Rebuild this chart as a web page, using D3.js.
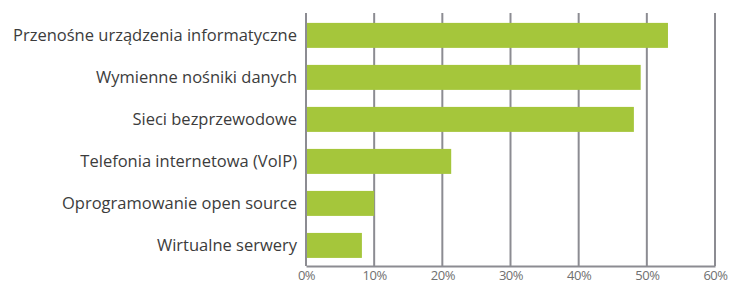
<!DOCTYPE html>
<html lang="pl">
<head>
<meta charset="UTF-8">
<title>Chart</title>
<style>
    body { margin: 0; background: #fff; }
    svg { display: block; }
</style>
</head>
<body>
<svg id="chart"></svg>
<script src="https://d3js.org/d3.v7.min.js"></script>
<script>
    const categories = [
        "Przenośne urządzenia informatyczne",
        "Wymienne nośniki danych",
        "Sieci bezprzewodowe",
        "Telefonia internetowa (VoIP)",
        "Oprogramowanie open source",
        "Wirtualne serwery"
    ];
    const values = [53.1, 49.1, 48.1, 21.3, 10.0, 8.2];
    const tick_values = [0, 10, 20, 30, 40, 50, 60];

    const width = 733, height = 301;
    const margin = {top: 13, right: 18, bottom: 35, left: 306};
    const inner_w = width - margin.left - margin.right;
    const inner_h = height - margin.top - margin.bottom;

    const svg = d3.select("#chart").attr("width", width).attr("height", height);
    const plot = svg.append("g")
        .attr("transform", "translate(" + margin.left + "," + margin.top + ")");

    const x_scale = d3.scaleLinear().domain([0, 60]).range([0, inner_w]);
    const y_scale = d3.scaleBand()
        .domain(categories)
        .range([0, inner_h])
        .paddingInner(0.405)
        .paddingOuter(0.214)
        .align(0.55);

    // grid lines
    plot.selectAll(".grid")
        .data(tick_values)
        .enter().append("line")
        .attr("x1", d => x_scale(d))
        .attr("x2", d => x_scale(d))
        .attr("y1", 0)
        .attr("y2", inner_h)
        .attr("stroke", "#8c8c92")
        .attr("stroke-width", 2);

    // bars
    plot.selectAll(".bar")
        .data(values)
        .enter().append("rect")
        .attr("x", x_scale(0) + 1)
        .attr("y", (d, i) => y_scale(categories[i]))
        .attr("height", y_scale.bandwidth())
        .attr("width", d => x_scale(d) - x_scale(0) - 1)
        .attr("fill", "#a5c63b");

    // bottom axis
    const x_axis = plot.append("g")
        .attr("transform", "translate(0," + inner_h + ")")
        .call(d3.axisBottom(x_scale).tickValues(tick_values)
            .tickFormat(d => d + "%").tickSize(0).tickPadding(5));
    x_axis.select(".domain")
        .attr("stroke", "#8c8c92").attr("stroke-width", 2);
    x_axis.selectAll("text")
        .attr("fill", "#707070")
        .style("font-family", "'Open Sans', sans-serif")
        .style("font-size", "13px")
        .style("letter-spacing", "-0.5px");

    // left labels
    const y_axis = plot.append("g")
        .call(d3.axisLeft(y_scale).tickSize(0).tickPadding(9));
    y_axis.select(".domain").remove();
    y_axis.selectAll("text")
        .attr("fill", "#3c3c3c")
        .style("font-family", "'Open Sans', sans-serif")
        .style("font-size", "16.5px");
</script>
</body>
</html>
